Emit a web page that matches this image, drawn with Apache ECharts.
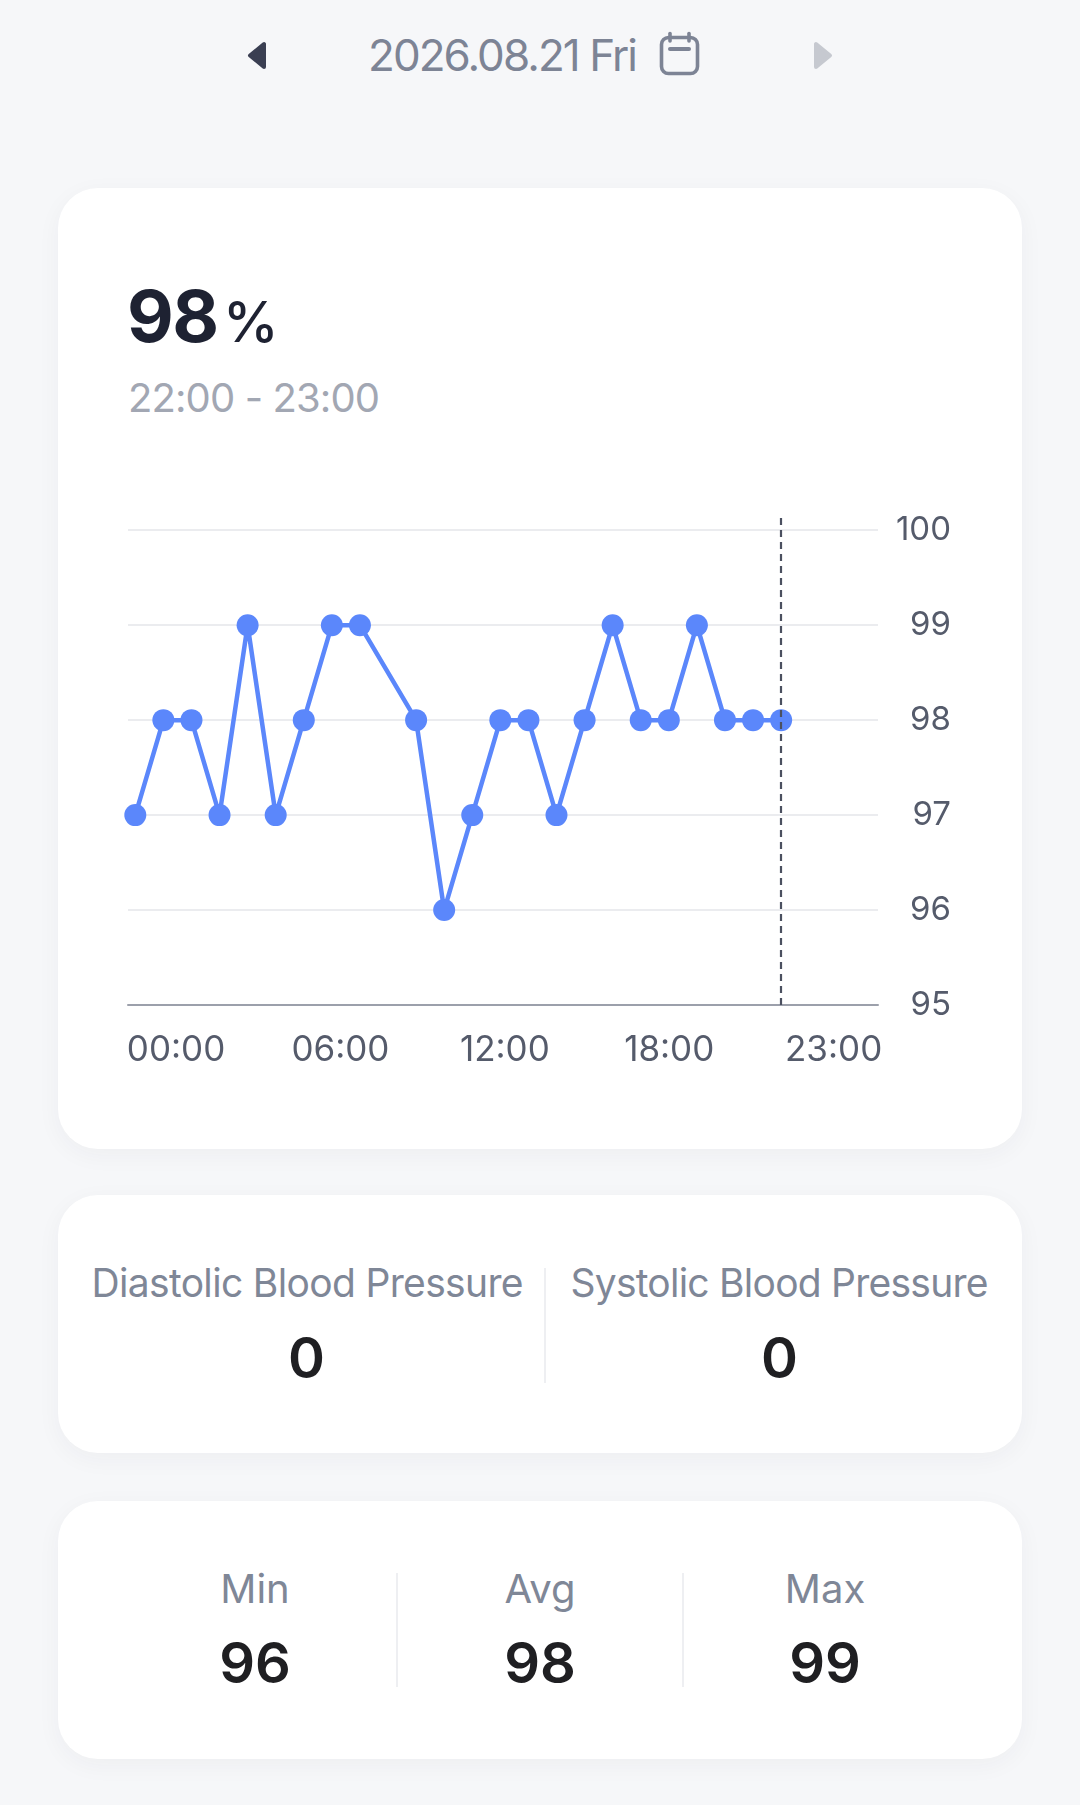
<!DOCTYPE html>
<html><head><meta charset="utf-8">
<script src="https://cdn.jsdelivr.net/npm/echarts@6/dist/echarts.min.js"></script>
<style>
html,body{margin:0;padding:0;}
body{width:1080px;height:1805px;background:#f6f7f9;position:relative;overflow:hidden;font-family:Inter,'Noto Sans',sans-serif;}
.abs{position:absolute;white-space:nowrap;line-height:1;}
.card{position:absolute;left:58px;width:964px;background:#fff;border-radius:40px;box-shadow:0 6px 24px rgba(40,50,70,0.045);}
.c{text-align:center;width:600px;}
.vd{position:absolute;width:2px;background:#eeeff2;}
.lbl{font-size:39px;color:#7f8797;font-weight:400;}
.num{font-size:56px;color:#1f1f22;font-weight:600;}
</style></head><body>

<!-- header -->
<svg class="abs" style="left:240px;top:34px" width="34" height="44" viewBox="240 34 34 44">
  <path d="M264 44 L264 67 L250 55.5 Z" fill="#3a3f52" stroke="#3a3f52" stroke-width="4" stroke-linejoin="round"/>
</svg>
<div class="abs" style="left:368px;top:33px;font-size:44px;color:#7d8495;"><span id="date">2026.08.21 Fri</span></div>
<svg class="abs" style="left:658px;top:31px" width="44" height="46">
  <rect x="3.5" y="6.5" width="36" height="36" rx="7" fill="none" stroke="#7d8495" stroke-width="3.6"/>
  <line x1="12" y1="2.5" x2="12" y2="10" stroke="#7d8495" stroke-width="3.6" stroke-linecap="round"/>
  <line x1="31" y1="2.5" x2="31" y2="10" stroke="#7d8495" stroke-width="3.6" stroke-linecap="round"/>
  <line x1="12" y1="18" x2="31" y2="18" stroke="#7d8495" stroke-width="4" stroke-linecap="round"/>
</svg>
<svg class="abs" style="left:806px;top:34px" width="34" height="44" viewBox="806 34 34 44">
  <path d="M816 44 L816 67 L830 55.5 Z" fill="#c6c9d0" stroke="#c6c9d0" stroke-width="4" stroke-linejoin="round"/>
</svg>

<!-- card 1 -->
<div class="card" style="top:188px;height:961px;"></div>
<div class="abs" style="left:127px;top:280px;font-size:72px;font-weight:700;color:#1e2232;"><span id="big">98</span></div>
<div class="abs" style="left:223px;top:294px;font-size:56px;font-weight:500;color:#1e2232;">%</div>
<div class="abs" style="left:128px;top:377.5px;font-size:40px;color:#a2a7b3;"><span id="range">22:00 - 23:00</span></div>
<div id="chart" style="position:absolute;left:58px;top:480px;width:964px;height:620px;"></div>

<!-- card 2 -->
<div class="card" style="top:1195px;height:258px;"></div>
<div class="abs c lbl" style="left:7.5px;top:1263px;"><span id="dbp">Diastolic Blood Pressure</span></div>
<div class="abs c num" style="left:6.5px;top:1330px;">0</div>
<div class="vd" style="left:544px;top:1268px;height:115px;"></div>
<div class="abs c lbl" style="left:479.5px;top:1263px;"><span id="sbp">Systolic Blood Pressure</span></div>
<div class="abs c num" style="left:479.5px;top:1330px;">0</div>

<!-- card 3 -->
<div class="card" style="top:1501px;height:258px;"></div>
<div class="abs c lbl" style="left:-45px;top:1568.5px;font-size:40px;">Min</div>
<div class="abs c num" style="left:-45px;top:1635px;">96</div>
<div class="vd" style="left:396px;top:1573px;height:114px;"></div>
<div class="abs c lbl" style="left:240px;top:1568.5px;font-size:40px;">Avg</div>
<div class="abs c num" style="left:240px;top:1635px;">98</div>
<div class="vd" style="left:682px;top:1573px;height:114px;"></div>
<div class="abs c lbl" style="left:525px;top:1568.5px;font-size:40px;">Max</div>
<div class="abs c num" style="left:525px;top:1635px;">99</div>

<script>
// ---- data ----
const hours = [0, 1, 2, 3, 4, 5, 6, 7, 8, 10, 11, 12, 13, 14, 15, 16, 17, 18, 19, 20, 21, 22, 23];
const spo2  = [97, 98, 98, 97, 99, 97, 98, 99, 99, 98, 96, 97, 98, 98, 97, 98, 99, 98, 98, 99, 98, 98, 98];
const xTickLabels = ['00:00', '06:00', '12:00', '18:00', '23:00'];
const xTickSlots = [0, 1, 2, 3, 4];
const yTicks = [95, 96, 97, 98, 99, 100];
const selectedHour = 23;

// fit letter spacing of real text (inline spans) to match reference widths
function fitText(id, target) {
  const el = document.getElementById(id);
  el.style.letterSpacing = '0px';
  const w = el.getBoundingClientRect().width;
  const n = el.textContent.length;
  if (n > 1) {
    const ls = (target - w) / (n - 1);
    el.style.letterSpacing = ls + 'px';
    el.style.marginRight = (-ls) + 'px';
  }
}
fitText('date', 270);
fitText('big', 92);
fitText('range', 252);
fitText('dbp', 432);
fitText('sbp', 418);

const chart = echarts.init(document.getElementById('chart'), null, { renderer: 'canvas' });
const blue = '#5b87fb';
chart.setOption({
  animation: false,
  textStyle: { fontFamily: 'Inter' },
  grid: { left: 70, right: 144, top: 36, bottom: 95, containLabel: false, outerBoundsMode: 'none' },
  xAxis: [
    {
      type: 'value', min: -0.26, max: 26.45, position: 'bottom',
      axisLine: { show: true, onZero: false, lineStyle: { color: '#9ca0ab', width: 2 } },
      axisTick: { show: false }, axisLabel: { show: false }, splitLine: { show: false }
    },
    {
      type: 'value', min: -0.292, max: 4.27, position: 'bottom', offset: 0,
      axisLine: { show: false, onZero: false }, axisTick: { show: false }, splitLine: { show: false },
      axisLabel: {
        customValues: xTickSlots,
        formatter: v => xTickLabels[Math.round(v)] || '',
        fontSize: 35, color: '#555b6b', margin: 28, fontFamily: 'Inter'
      }
    }
  ],
  yAxis: {
    type: 'value', position: 'right', min: 95, max: 100.15, interval: 1,
    axisLine: { show: false }, axisTick: { show: false },
    splitLine: { show: true, showMinLine: false, showMaxLine: false, lineStyle: { color: '#ebecef', width: 2 } },
    axisLabel: {
      formatter: v => (yTicks.indexOf(v) >= 0 ? String(v) : ''),
      fontSize: 33, color: '#555b6b', align: 'right', margin: 73, fontFamily: 'Inter'
    }
  },
  series: [{
    type: 'line', xAxisIndex: 0,
    data: hours.map((h, i) => [h, spo2[i]]),
    symbol: 'circle', symbolSize: 22, showAllSymbol: true,
    itemStyle: { color: blue },
    lineStyle: { color: blue, width: 4.5 },
    clip: false,
    markLine: {
      silent: true, symbol: 'none', label: { show: false },
      lineStyle: { color: '#4b5060', width: 2.2, type: [7, 5] },
      data: [[{ coord: [selectedHour, 95] }, { coord: [selectedHour, 100.15] }]]
    },
    z: 3
  }]
});
</script>
</body></html>
